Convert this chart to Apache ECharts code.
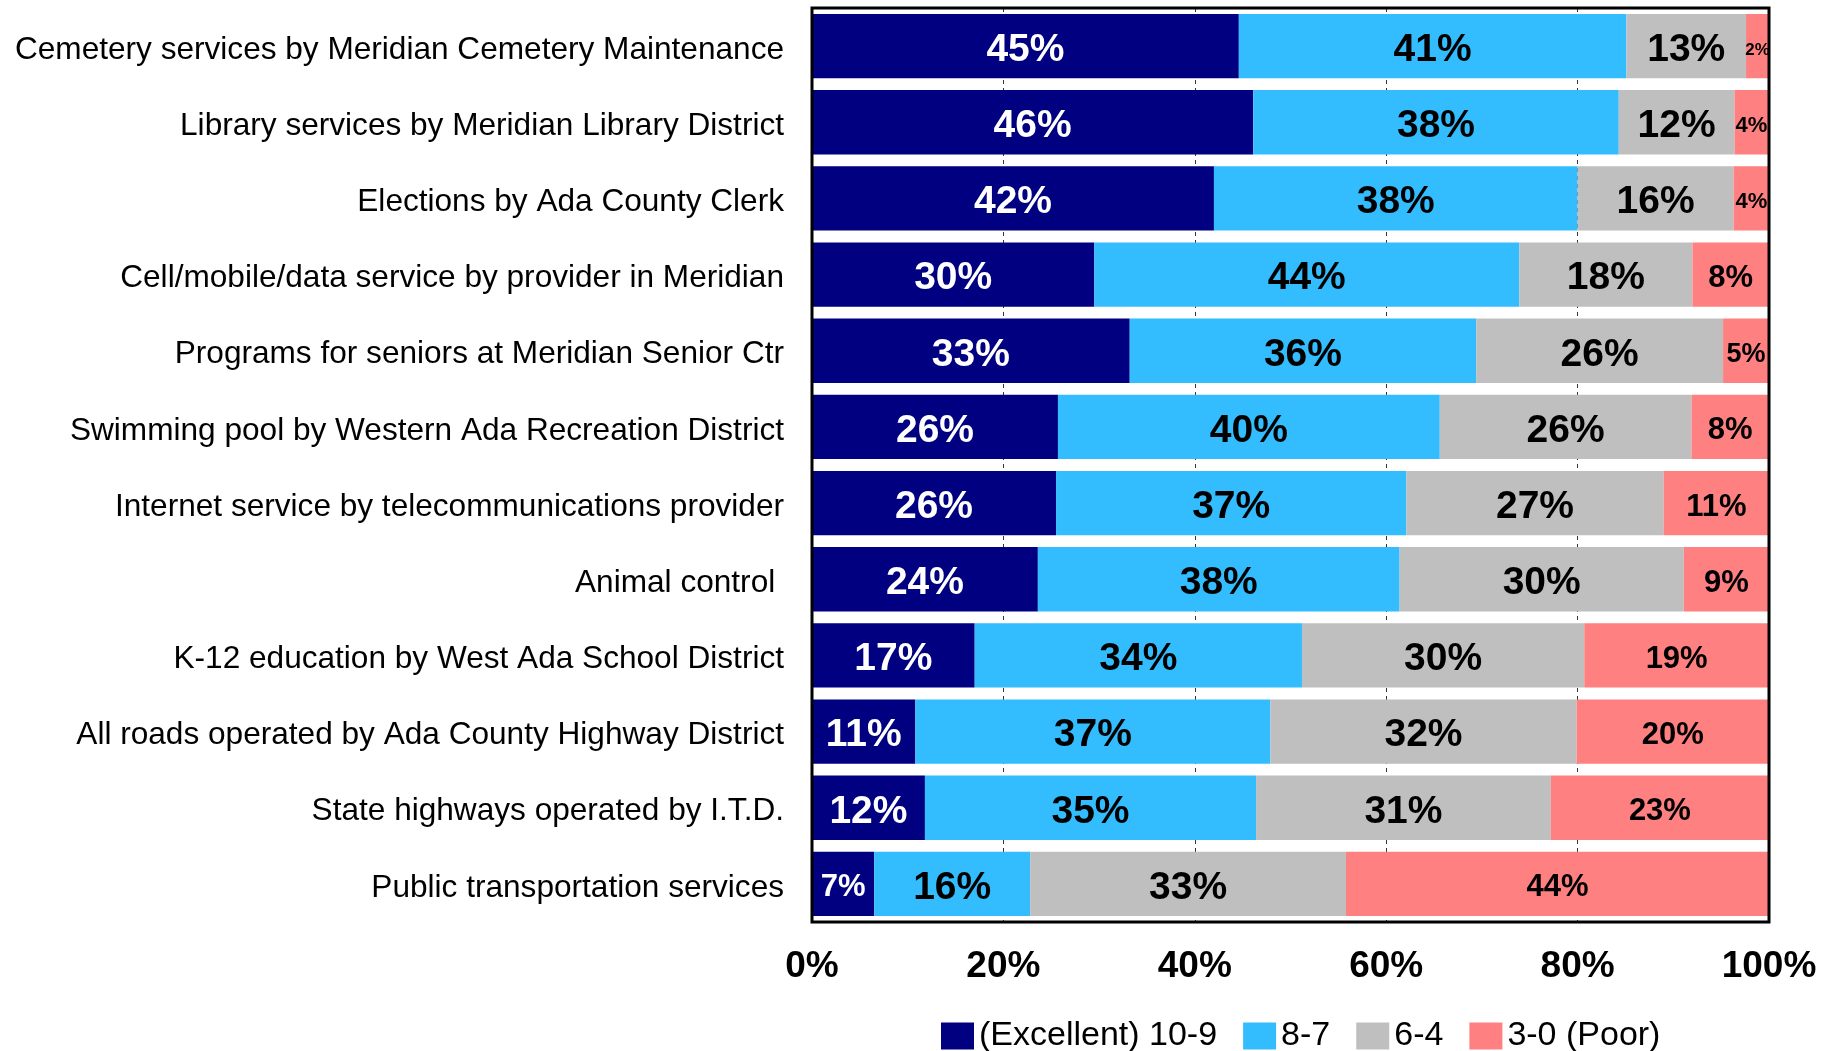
<!DOCTYPE html>
<html>
<head>
<meta charset="utf-8">
<script src="https://cdn.jsdelivr.net/npm/echarts@6/dist/echarts.min.js"></script>
<style>
html,body{margin:0;padding:0;background:#fff;}
#chart{width:1837px;height:1051px;}
</style>
</head>
<body>
<div id="chart"></div>
<script>
// ---- data ----
const categories = [
  "Cemetery services by Meridian Cemetery Maintenance",
  "Library services by Meridian Library District",
  "Elections by Ada County Clerk",
  "Cell/mobile/data service by provider in Meridian",
  "Programs for seniors at Meridian Senior Ctr",
  "Swimming pool by Western Ada Recreation District",
  "Internet service by telecommunications provider",
  "Animal control ",
  "K-12 education by West Ada School District",
  "All roads operated by Ada County Highway District",
  "State highways operated by I.T.D.",
  "Public transportation services"
];
const seriesNames = ["(Excellent) 10-9", "8-7", "6-4", "3-0 (Poor)"];
const excellent = [44.6, 46.1, 42.0, 29.5, 33.2, 25.7, 25.5, 23.6, 17.0, 10.8, 11.8, 6.5];
const good      = [40.5, 38.2, 38.0, 44.4, 36.2, 39.9, 36.6, 37.8, 34.2, 37.1, 34.6, 16.3];
const fair      = [12.5, 12.1, 16.3, 18.1, 25.8, 26.3, 26.9, 29.7, 29.5, 32.0, 30.8, 33.0];
const poor      = [2.4, 3.5, 3.7, 8.0, 4.8, 8.1, 11.0, 8.9, 19.3, 20.1, 22.8, 44.2];
const xTicks = [0, 20, 40, 60, 80, 100];

// ---- styles ----
const colors = ["#000080", "#33BDFF", "#BFBFBF", "#FF8080"];
const labelColors = ["#ffffff", "#000000", "#000000", "#000000"];
const baseLabelSize = [39, 39, 39, 31];
const FONT = "'Liberation Sans', Arial, sans-serif";

function sizeFor(v, base) {
  if (v < 3) return 17;
  if (v < 4) return 22;
  if (v < 6) return 27;
  if (v < 7) return 31;
  return base;
}

const allValues = [excellent, good, fair, poor];
const series = allValues.map((vals, si) => ({
  name: seriesNames[si],
  type: 'bar',
  stack: 'total',
  barCategoryGap: '15.5%',
  itemStyle: { color: colors[si] },
  label: {
    show: true,
    position: 'inside',
    offset: [0, 4],
    color: labelColors[si],
    fontFamily: FONT,
    fontWeight: 'bold',
    formatter: p => Math.round(p.value) + '%'
  },
  data: vals.map(v => ({ value: v, label: { fontSize: sizeFor(v, baseLabelSize[si]) } }))
}));

const chart = echarts.init(document.getElementById('chart'), null, { renderer: 'canvas' });
chart.setOption({
  animation: false,
  backgroundColor: '#ffffff',
  textStyle: { fontFamily: FONT },
  grid: {
    left: 812, right: 68, top: 8, bottom: 129,
    show: true, borderColor: '#000', borderWidth: 3, z: 10,
    backgroundColor: 'transparent'
  },
  legend: {
    data: seriesNames,
    left: 936,
    top: 1014,
    itemWidth: 33,
    itemHeight: 27,
    itemGap: 26,
    icon: 'rect',
    textStyle: { fontFamily: FONT, fontSize: 34, color: '#000' }
  },
  xAxis: {
    type: 'value',
    min: xTicks[0],
    max: xTicks[xTicks.length - 1],
    interval: 20,
    axisLine: { show: false },
    axisTick: { show: false },
    splitLine: { show: true, lineStyle: { color: '#333', width: 1, type: [4, 4] } },
    axisLabel: {
      formatter: '{value}%',
      fontFamily: FONT,
      fontWeight: 'bold',
      fontSize: 37,
      color: '#000',
      margin: 26
    }
  },
  yAxis: {
    type: 'category',
    inverse: true,
    data: categories,
    axisLine: { show: false },
    axisTick: { show: false },
    splitLine: { show: false },
    axisLabel: {
      fontFamily: FONT,
      fontSize: 31.6,
      color: '#000',
      margin: 28,
      verticalAlign: 'top',
      lineHeight: 8
    }
  },
  series: series
});
</script>
</body>
</html>
